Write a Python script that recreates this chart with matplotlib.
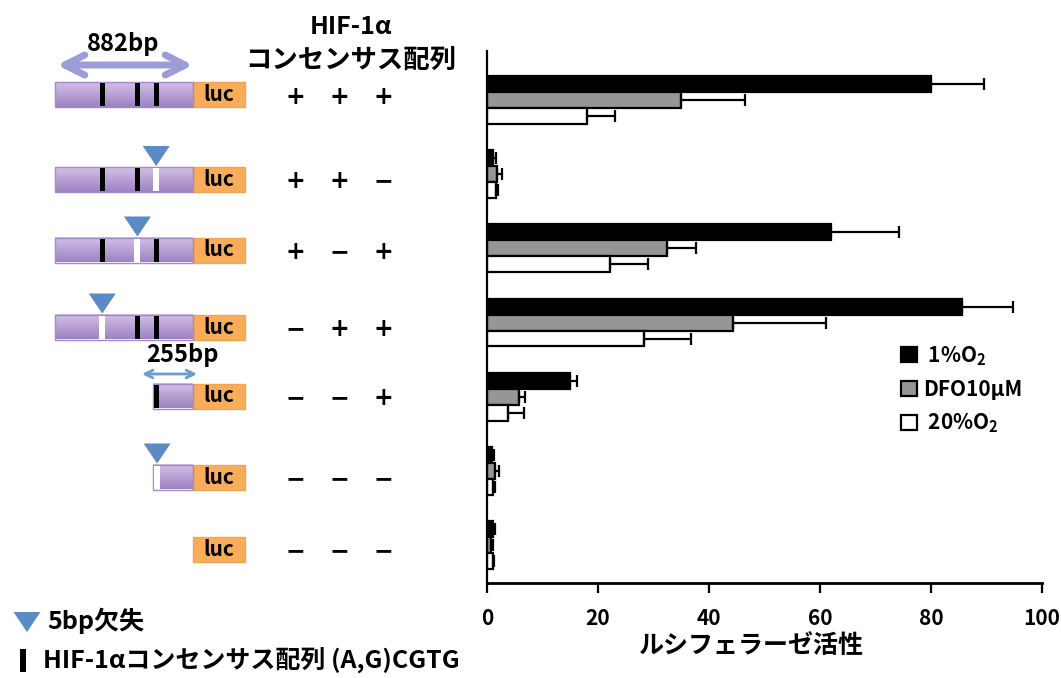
import numpy as np
import matplotlib
matplotlib.use("Agg")
import matplotlib.pyplot as plt
import matplotlib.patches as patches
from matplotlib.colors import LinearSegmentedColormap

plt.rcParams['font.family'] = ['Noto Sans CJK JP', 'DejaVu Sans']
plt.rcParams['font.weight'] = 'bold'
plt.rcParams['axes.unicode_minus'] = False

# --- data -------------------------------------------------------------
series_labels = [' 1%O$_\\mathregular{2}$', 'DFO10µM', ' 20%O$_\\mathregular{2}$']
o2_1 = [80, 1.1, 62, 85.5, 15, 0.9, 1.1]
o2_1_err = [9.5, 0.5, 12.2, 9.2, 1.3, 0.3, 0.3]
dfo = [35, 1.8, 32.4, 44.3, 5.8, 1.5, 0.8]
dfo_err = [11.5, 0.9, 5.3, 16.8, 1.0, 0.7, 0.2]
o2_20 = [18, 1.6, 22.2, 28.3, 3.8, 1.1, 1.0]
o2_20_err = [5.0, 0.3, 6.8, 8.5, 2.9, 0.3, 0.3]
xticks = [0, 20, 40, 60, 80, 100]

# constructs (promoter length in bp, HIF-1a sites kept, deleted site)
site_bp = [-580, -355, -235]          # position upstream of luc
construct_len = [882, 882, 882, 882, 255, 255, 0]
construct_sites = ['+++', '++-', '+-+', '-++', '--+', '---', '---']
deleted_site = [None, 2, 1, 0, None, 2, None]

# --- layout (pixels of the 1061x678 canvas) ---------------------------
W, H = 1061, 678
row_y = [94.5, 179.5, 250, 327, 396, 477, 549]
luc_x, luc_w, box_h = 193, 52, 25
px_per_bp = 138 / 882
sign_x = [295, 339, 383]

fig = plt.figure(figsize=(W / 100, H / 100), dpi=100)

# diagram overlay in pixel coords
dax = fig.add_axes([0, 0, 1, 1])
dax.set_xlim(0, W)
dax.set_ylim(H, 0)
dax.axis('off')

purple = LinearSegmentedColormap.from_list('p', ['#d3c0e6', '#9d82c2'])
grad = np.linspace(0, 1, 64).reshape(-1, 1)
tri_col = '#5b8ac4'


def triangle(x, y_apex, w=27, h=20):
    dax.add_patch(patches.Polygon([(x - w / 2, y_apex - h), (x + w / 2, y_apex - h), (x, y_apex)],
                                  closed=True, fc=tri_col, ec='none', zorder=4))


for i, yc in enumerate(row_y):
    top = yc - box_h / 2
    if construct_len[i] > 0:
        x0 = luc_x - construct_len[i] * px_per_bp
        dax.imshow(grad, extent=(x0, luc_x, yc + box_h / 2, top), aspect='auto',
                   cmap=purple, zorder=2)
        dax.add_patch(patches.Rectangle((x0, top), luc_x - x0, box_h, fill=False,
                                        ec='#a389c8', lw=1, zorder=3))
        for k, bp in enumerate(site_bp):
            sx = luc_x + bp * px_per_bp
            if sx < x0:
                continue
            if deleted_site[i] == k:
                gx = max(sx - 3, x0 + 1)
                dax.add_patch(patches.Rectangle((gx, top + 1), 6, box_h - 2, fc='white',
                                                ec='none', zorder=3))
                triangle(gx + 3, top - 1)
            elif construct_sites[i][k] == '+':
                dax.add_patch(patches.Rectangle((sx - 2.5, top + 1), 5, box_h - 2, fc='black',
                                                ec='none', zorder=3))
    dax.add_patch(patches.Rectangle((luc_x, top), luc_w, box_h, fc='#f9ac5a', ec='#f2a452',
                                    lw=1, zorder=2))
    dax.text(luc_x + luc_w / 2, yc, 'luc', ha='center', va='center', fontsize=15,
             fontweight='bold', zorder=5)
    for j, s in enumerate(construct_sites[i]):
        dax.text(sign_x[j], yc + 2, '+' if s == '+' else '−', ha='center', va='center',
                 fontsize=17, fontweight='bold', family='DejaVu Sans')

# size arrows
dax.annotate('', xy=(57, 65), xytext=(193, 65),
             arrowprops=dict(arrowstyle='<->', color='#9c9cd9', lw=5, mutation_scale=36,
                             shrinkA=0, shrinkB=0))
dax.text(123, 44, '882bp', ha='center', va='center', fontsize=17, fontweight='bold')
dax.annotate('', xy=(142, 374), xytext=(197, 374),
             arrowprops=dict(arrowstyle='<->', color='#6b9bd0', lw=2, mutation_scale=14,
                             shrinkA=0, shrinkB=0))
dax.text(182, 355, '255bp', ha='center', va='center', fontsize=17, fontweight='bold')

# column title
dax.text(351, 27, 'HIF-1α', ha='center', va='center', fontsize=18, fontweight='bold')
dax.text(351, 60, 'コンセンサス配列', ha='center', va='center', fontsize=19, fontweight='bold')

# key at the bottom
triangle(27, 632)
dax.text(47, 621, '5bp欠失', ha='left', va='center', fontsize=18, fontweight='bold')
dax.add_patch(patches.Rectangle((20, 649), 6, 23, fc='black', ec='none'))
dax.text(43, 661, 'HIF-1αコンセンサス配列 (A,G)CGTG', ha='left', va='center', fontsize=18,
         fontweight='bold')

# --- bar chart ----------------------------------------------------------
ax = fig.add_axes([487 / W, 1 - 583 / H, 555 / W, 532 / H])
pos = np.arange(len(o2_1))
bh = 0.215
zeros = np.zeros(len(pos))
handles = []
for off, vals, errs, col in [(-bh, o2_1, o2_1_err, 'black'),
                             (0, dfo, dfo_err, '#969696'),
                             (bh, o2_20, o2_20_err, 'white')]:
    b = ax.barh(pos + off, vals, height=bh, color=col, edgecolor='black', linewidth=1.6, zorder=2)
    ax.errorbar(vals, pos + off, xerr=[zeros, errs], fmt='none', ecolor='black',
                elinewidth=1.6, capsize=4, capthick=1.6, zorder=3)
    handles.append(b)

ax.set_xlim(0, 100)
ax.set_ylim(6.51, -0.66)
ax.set_yticks([])
ax.set_xticks(xticks)
ax.tick_params(axis='x', direction='out', length=7, width=1.6, labelsize=15, pad=11)
for lab in ax.get_xticklabels():
    lab.set_fontweight('bold')
ax.spines['top'].set_visible(False)
ax.spines['right'].set_visible(False)
ax.spines['left'].set_linewidth(1.6)
ax.spines['bottom'].set_linewidth(2)
ax.set_xlabel('ルシフェラーゼ活性', fontsize=18, fontweight='bold')
ax.xaxis.set_label_coords(0.476, -0.095)

ax.legend(handles, series_labels, loc='upper left', frameon=False,
          bbox_to_anchor=(901 / W, 1 - 344 / H), bbox_transform=fig.transFigure,
          prop={'size': 15, 'weight': 'bold'}, handlelength=0.75, handleheight=0.75,
          handletextpad=0.3, labelspacing=0.55, borderpad=0, borderaxespad=0)

fig.savefig('out.png', dpi=100)
